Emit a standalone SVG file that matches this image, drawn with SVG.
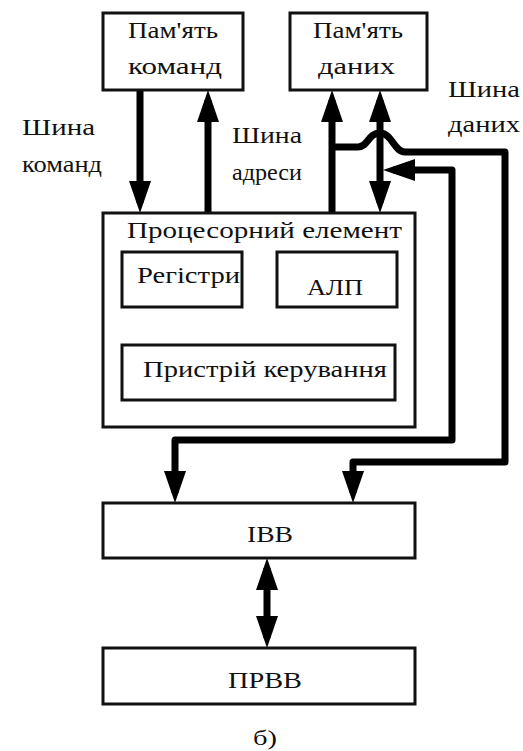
<svg xmlns="http://www.w3.org/2000/svg" width="523" height="751" viewBox="0 0 523 751">
<style>
.box{fill:#fff;stroke:#111;stroke-width:3}
.w{fill:none;stroke:#000;stroke-width:7;stroke-linejoin:round}
</style>
<defs>
<marker id="ah" viewBox="0 -11 32 22" refX="22" refY="0" markerWidth="32" markerHeight="22" markerUnits="userSpaceOnUse" orient="auto-start-reverse">
<path d="M0,-11 L32,0 L0,11 z" fill="#000"/>
</marker>
</defs>
<rect width="523" height="751" fill="#fff"/>
<g id="connectors">
<path class="w" d="M140,90 L140,203" marker-end="url(#ah)"/>
<path class="w" d="M208,213 L208,100" marker-end="url(#ah)"/>
<path class="w" d="M332,213 L332,100" marker-end="url(#ah)"/>
<path class="w" d="M380,100 L380,203" marker-start="url(#ah)" marker-end="url(#ah)"/>
<path class="w" d="M332,147 L358,147 C368,147 368,133 380,133 C392,133 394,152 405,152 L505,152 L505,462 L353,462 L353,493" marker-end="url(#ah)"/>
<path class="w" d="M393,170 L452,170 L452,440 L175,440 L175,493" marker-start="url(#ah)" marker-end="url(#ah)"/>
<path class="w" d="M267,568 L267,638" marker-start="url(#ah)" marker-end="url(#ah)"/>
</g>
<g font-family="Liberation Serif, Times New Roman, serif" font-size="24" fill="#111">
<g id="mem-cmd">
<rect class="box" x="103" y="13" width="140" height="77"/>
<text x="128" y="38" textLength="90" lengthAdjust="spacingAndGlyphs">Пам'ять</text>
<text x="128" y="74" textLength="94" lengthAdjust="spacingAndGlyphs">команд</text>
</g>
<g id="mem-data">
<rect class="box" x="290" y="13" width="137" height="77"/>
<text x="313" y="38" textLength="90" lengthAdjust="spacingAndGlyphs">Пам'ять</text>
<text x="318" y="74" textLength="77" lengthAdjust="spacingAndGlyphs">даних</text>
</g>
<g id="pe">
<rect class="box" x="103" y="213" width="312" height="214"/>
<text x="127" y="238" textLength="275" lengthAdjust="spacingAndGlyphs">Процесорний елемент</text>
</g>
<g id="reg">
<rect class="box" x="122" y="252" width="120" height="55"/>
<text x="137" y="283" textLength="103" lengthAdjust="spacingAndGlyphs">Регістри</text>
</g>
<g id="alu">
<rect class="box" x="277" y="252" width="120" height="55"/>
<text x="307" y="295" textLength="56" lengthAdjust="spacingAndGlyphs">АЛП</text>
</g>
<g id="cu">
<rect class="box" x="122" y="345" width="273" height="55"/>
<text x="143" y="377" textLength="244" lengthAdjust="spacingAndGlyphs">Пристрій керування</text>
</g>
<g id="ibb">
<rect class="box" x="103" y="503" width="312" height="55"/>
<text x="247" y="542" textLength="46" lengthAdjust="spacingAndGlyphs">ІВВ</text>
</g>
<g id="prvv">
<rect class="box" x="103" y="648" width="312" height="56"/>
<text x="228" y="688" textLength="74" lengthAdjust="spacingAndGlyphs">ПРВВ</text>
</g>
<g id="labels">
<text x="22" y="135" textLength="73" lengthAdjust="spacingAndGlyphs">Шина</text>
<text x="22" y="172" textLength="80" lengthAdjust="spacingAndGlyphs">команд</text>
<text x="232" y="143" textLength="70" lengthAdjust="spacingAndGlyphs">Шина</text>
<text x="232" y="180" textLength="70" lengthAdjust="spacingAndGlyphs">адреси</text>
<text x="448" y="97" textLength="72" lengthAdjust="spacingAndGlyphs">Шина</text>
<text x="448" y="132" textLength="72" lengthAdjust="spacingAndGlyphs">даних</text>
<text x="253" y="745" font-size="22" textLength="24" lengthAdjust="spacingAndGlyphs">б)</text>
</g>
</g>
</svg>
